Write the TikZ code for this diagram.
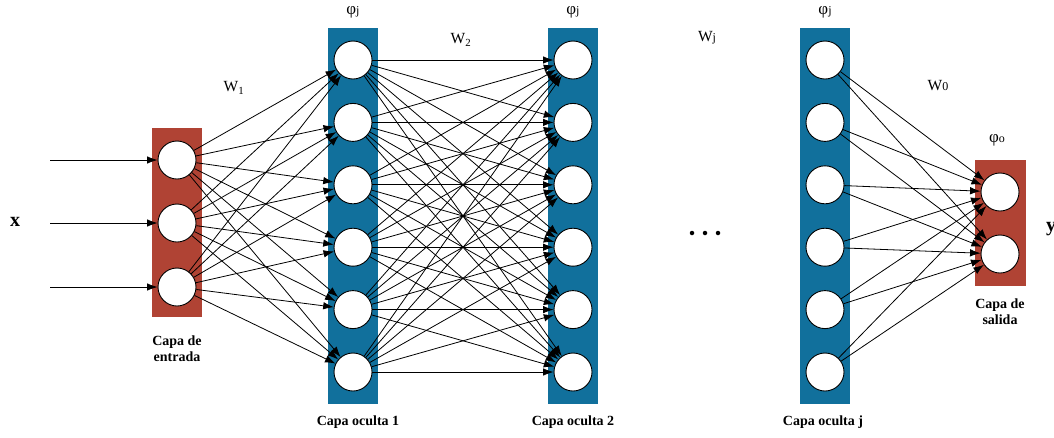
\documentclass[tikz,border=0pt]{standalone}
\usepackage{fontspec}
\setmainfont{Liberation Serif}
\usetikzlibrary{arrows.meta}
\definecolor{layerred}{RGB}{176,67,52}
\definecolor{layerblue}{RGB}{17,112,156}
\newcommand{\lowtext}[1]{{\fontsize{12}{14}\selectfont #1}}
\begin{document}
\begin{tikzpicture}[x=1pt,y=-1pt,
  neuron/.style={circle,draw=black,fill=white,minimum size=38pt,inner sep=0pt,line width=0.9pt},
  link/.style={line width=0.8pt,-{Latex[length=10.5pt,width=7.5pt]}},
  layerlabel/.style={font=\fontsize{14}{16}\selectfont\bfseries,align=center},
  wlabel/.style={font=\fontsize{15.5}{17}\selectfont},
  philabel/.style={font=\fontsize{17}{19}\selectfont},
  dot/.style={circle,fill=black,inner sep=0pt,minimum size=4.5pt}]
\useasboundingbox (0,0) rectangle (1054,437);

% layer backgrounds
\fill[layerred]  (152,128) rectangle (202,317);
\fill[layerblue] (328,28) rectangle (378,404);
\fill[layerblue] (548,28) rectangle (598,404);
\fill[layerblue] (800,28) rectangle (850,404);
\fill[layerred]  (975,160) rectangle (1026,286);

% neurons
\foreach \i/\y in {1/160,2/223,3/287} {
  \node[neuron] (in\i) at (177,\y) {};
  \coordinate (src\i) at (50,\y);
}
\foreach \i in {1,...,6} {
  \pgfmathsetmacro{\yy}{60+62.4*(\i-1)}
  \node[neuron] (ha\i) at (353,\yy) {};
  \node[neuron] (hb\i) at (573,\yy) {};
  \node[neuron] (hj\i) at (825,\yy) {};
}
\node[neuron] (out1) at (1000,192) {};
\node[neuron] (out2) at (1000,254) {};

% connections
\foreach \i in {1,2,3} {
  \draw[link] (src\i) -- (in\i);
  \foreach \j in {1,...,6} \draw[link] (in\i) -- (ha\j);
}
\foreach \i in {1,...,6} {
  \foreach \j in {1,...,6} \draw[link] (ha\i) -- (hb\j);
  \foreach \j in {1,2} \draw[link] (hj\i) -- (out\j);
}

% dots between hidden layers
\node[dot] (d1) at (692,233) {};
\node[dot] (d2) at (705,233) {};
\node[dot] (d3) at (718,233) {};

% labels
\node[font=\fontsize{20}{22}\selectfont\bfseries] (xl) at (15,222) {x};
\node[font=\fontsize{20}{22}\selectfont\bfseries] (yl) at (1051,229) {y};
\node[philabel] (phi1) at (353,12) {φ\lowtext{j}};
\node[philabel] (phi2) at (573,12) {φ\lowtext{j}};
\node[philabel] (phi3) at (825,12) {φ\lowtext{j}};
\node[philabel] (phio) at (997,140) {φ\lowtext{o}};
\node[wlabel] (w1) at (234,88) {W\textsubscript{1}};
\node[wlabel] (w2) at (461,40) {W\textsubscript{2}};
\node[wlabel] (wj) at (707,38) {W\lowtext{j}};
\node[wlabel] (w0) at (938,86) {W\lowtext{0}};
\node[layerlabel] (l0) at (177,349) {Capa de\\entrada};
\node[layerlabel] (l1) at (358,422) {Capa oculta 1};
\node[layerlabel] (l2) at (573,422) {Capa oculta 2};
\node[layerlabel] (l3) at (823,422) {Capa oculta j};
\node[layerlabel] (l4) at (1000,312) {Capa de\\salida};
\end{tikzpicture}
\end{document}
